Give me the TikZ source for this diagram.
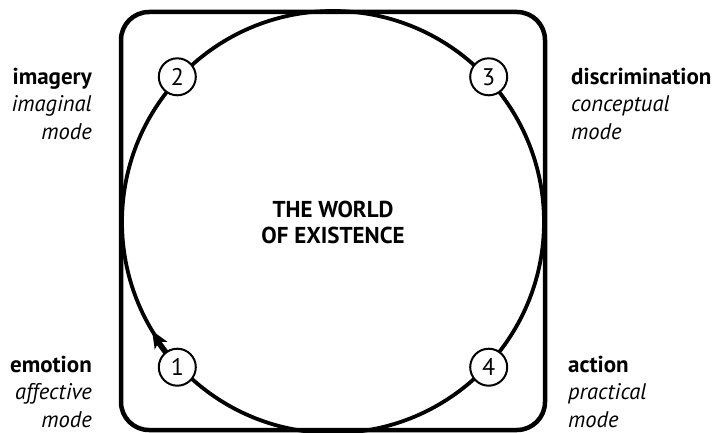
\documentclass[tikz,border=0pt]{standalone}
\usepackage{fontspec}
\setmainfont{PT Sans}
\usetikzlibrary{arrows.meta}
\begin{document}
\begin{tikzpicture}[x=1pt,y=1pt,
  lab/.style={inner sep=0pt,font=\fontsize{22.6}{27}\selectfont\itshape},
  blab/.style={inner sep=0pt,font=\fontsize{23}{27}\selectfont\bfseries},
  num/.style={circle,draw,line width=2pt,fill=white,minimum size=37pt,inner sep=0pt,font=\fontsize{24}{26}\selectfont},
  frame/.style={draw,line width=4.5pt,rounded corners=28pt,minimum width=424pt,minimum height=418pt,inner sep=0pt},
  world/.style={circle,draw,line width=3.8pt,minimum size=422pt,inner sep=0pt,align=center,font=\fontsize{23}{26}\selectfont\bfseries}
]
\useasboundingbox (0,0) rectangle (717,432);
\node[frame] (box) at (333,211) {};
\node[world] (w) at (333,210) {THE WORLD\\OF EXISTENCE};
\draw[line width=3.8pt] (w.225) arc[start angle=225,end angle=214,radius=211];
\coordinate (tip) at (152.1,101.3);
\fill (tip) -- +(278:19) -- +(301:13) -- +(324:19) -- cycle;
\node[num] (n2) at (w.137) {2};
\node[num] (n3) at (w.43) {3};
\node[num] (n1) at (w.223) {1};
\node[num] (n4) at (w.317) {4};
% left labels
\node[blab,anchor=base east] (l2a) at (92,347) {imagery};
\node[lab,anchor=base east] (l2b) at (92,320) {imaginal};
\node[lab,anchor=base east] (l2c) at (92,293) {mode};
\node[blab,anchor=base east] (l1a) at (92,60) {emotion};
\node[lab,anchor=base east] (l1b) at (92,33) {affective};
\node[lab,anchor=base east] (l1c) at (92,5) {mode};
% right labels
\node[blab,anchor=base west] (l3a) at (571,347) {discrimination};
\node[lab,anchor=base west] (l3b) at (571,320) {conceptual};
\node[lab,anchor=base west] (l3c) at (571,293) {mode};
\node[blab,anchor=base west] (l4a) at (568,60) {action};
\node[lab,anchor=base west] (l4b) at (568,33) {practical};
\node[lab,anchor=base west] (l4c) at (568,5) {mode};
\end{tikzpicture}
\end{document}
